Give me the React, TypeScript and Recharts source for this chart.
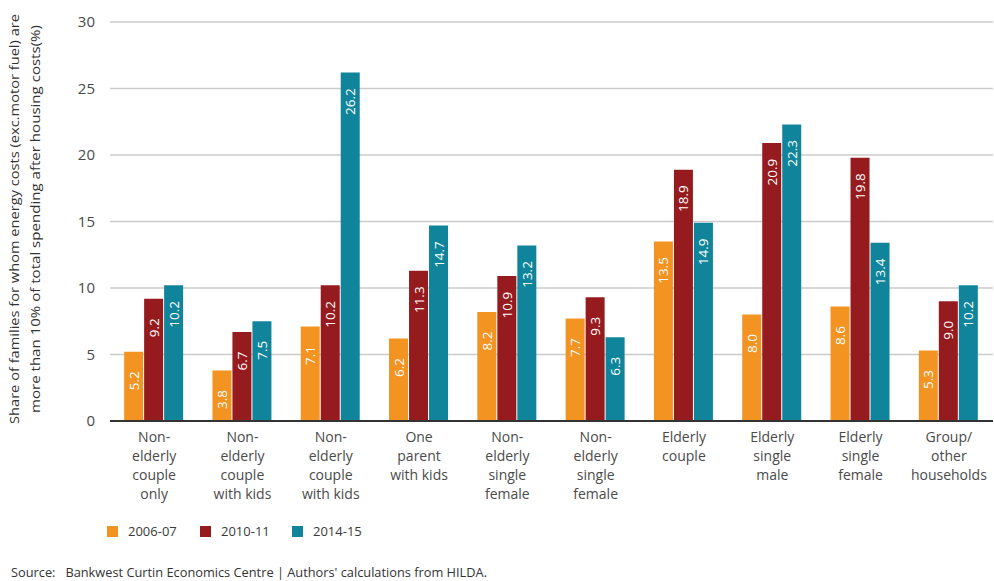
import React from 'react';
import { BarChart, Bar, XAxis, YAxis, CartesianGrid, LabelList } from 'recharts';

const categories = ['c1', 'c2', 'c3', 'c4', 'c5', 'c6', 'c7', 'c8', 'c9', 'c10'];
const categoryLines = [
  ['Non-', 'elderly', 'couple', 'only'],
  ['Non-', 'elderly', 'couple', 'with kids'],
  ['Non-', 'elderly', 'couple', 'with kids'],
  ['One', 'parent', 'with kids'],
  ['Non-', 'elderly', 'single', 'female'],
  ['Non-', 'elderly', 'single', 'female'],
  ['Elderly', 'couple'],
  ['Elderly', 'single', 'male'],
  ['Elderly', 'single', 'female'],
  ['Group/', 'other', 'households'],
];
const series0607 = [5.2, 3.8, 7.1, 6.2, 8.2, 7.7, 13.5, 8.0, 8.6, 5.3];
const series1011 = [9.2, 6.7, 10.2, 11.3, 10.9, 9.3, 18.9, 20.9, 19.8, 9.0];
const series1415 = [10.2, 7.5, 26.2, 14.7, 13.2, 6.3, 14.9, 22.3, 13.4, 10.2];
const seriesNames = ['2006-07', '2010-11', '2014-15'];
const seriesColors = ['#F39322', '#961B1F', '#10849A'];
const yTicks = [0, 5, 10, 15, 20, 25, 30];
const yLabelLines = [
  'Share of families for whom energy costs (exc.motor fuel) are',
  'more than 10% of total spending after housing costs(%)',
];
const sourceText = "Source:   Bankwest Curtin Economics Centre | Authors' calculations from HILDA.";

const data = categories.map((c, i) => ({
  cat: c,
  s0: series0607[i],
  s1: series1011[i],
  s2: series1415[i],
}));

const FONT = '"Open Sans", "DejaVu Sans", sans-serif';

const XTick = (props: any) => {
  const { x, y, payload } = props;
  const idx = categories.indexOf(payload.value);
  const lines = categoryLines[idx] || [];
  return (
    <text x={x} y={y} textAnchor="middle" fill="#4a4a4a" fontSize={14} fontFamily={FONT}>
      {lines.map((l, i) => (
        <tspan key={i} x={x} dy={i === 0 ? 21 : 19}>
          {l}
        </tspan>
      ))}
    </text>
  );
};

const BarLabel = (props: any) => {
  const { x, y, width, value } = props;
  const cx = x + width / 2;
  const cy = y + 29;
  return (
    <text
      x={cx}
      y={cy}
      transform={`rotate(-90 ${cx} ${cy})`}
      textAnchor="middle"
      dominantBaseline="central"
      fill="#ffffff"
      fontSize={13.5}
      fontFamily={FONT}
    >
      {Number(value).toFixed(1)}
    </text>
  );
};

export default function App() {
  return (
    <div style={{ position: 'absolute', left: 0, top: 0, width: 994, height: 581, background: '#fff' }}>
      <BarChart
        width={994}
        height={581}
        data={data}
        margin={{ top: 22, right: 1, left: 0, bottom: 80 }}
        barCategoryGap="16%"
        barGap={1}
      >
        <CartesianGrid vertical={false} stroke="#cbcbcb" strokeWidth={1.5} />
        <XAxis
          dataKey="cat"
          height={80}
          tick={<XTick />}
          tickLine={false}
          tickSize={0}
          tickMargin={0}
          interval={0}
          axisLine={{ stroke: '#333333', strokeWidth: 2 }}
        />
        <YAxis
          width={110}
          domain={[0, 30]}
          ticks={yTicks}
          axisLine={false}
          tickLine={false}
          tickSize={0}
          tickMargin={15}
          tick={{ fill: '#4a4a4a', fontSize: 15, fontFamily: FONT }}
        />
        {['s0', 's1', 's2'].map((k, i) => (
          <Bar key={k} dataKey={k} name={seriesNames[i]} fill={seriesColors[i]} isAnimationActive={false}>
            <LabelList dataKey={k} content={<BarLabel />} />
          </Bar>
        ))}
      </BarChart>
      <svg
        width={994}
        height={581}
        style={{ position: 'absolute', left: 0, top: 0, pointerEvents: 'none' }}
      >
        {yLabelLines.map((l, i) => {
          const cx = 14 + i * 21;
          const cy = 219;
          return (
            <text
              key={i}
              x={cx}
              y={cy}
              transform={`rotate(-90 ${cx} ${cy})`}
              textAnchor="middle"
              dominantBaseline="central"
              fill="#333333"
              fontSize={13}
              fontFamily={FONT}
              textLength={i === 0 ? 410 : 388}
              lengthAdjust="spacingAndGlyphs"
            >
              {l}
            </text>
          );
        })}
        {seriesNames.map((n, i) => {
          const x0 = [107, 200, 292][i];
          return (
            <g key={n}>
              <rect x={x0} y={526} width={11} height={11} fill={seriesColors[i]} />
              <text x={x0 + 21} y={536} fill="#3a3a3a" fontSize={13} fontFamily={FONT}>
                {n}
              </text>
            </g>
          );
        })}
        <text
          x={11}
          y={577}
          fill="#333333"
          fontSize={12.5}
          fontFamily={FONT}
          style={{ whiteSpace: 'pre' }}
          textLength={476}
          lengthAdjust="spacingAndGlyphs"
        >
          {sourceText}
        </text>
      </svg>
    </div>
  );
}
